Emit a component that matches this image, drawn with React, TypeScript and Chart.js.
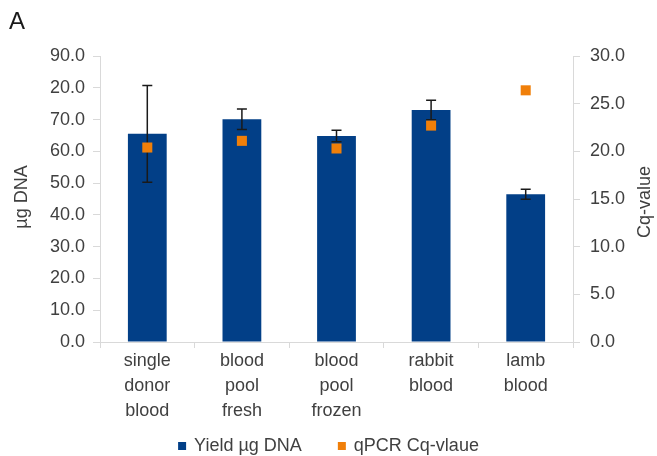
import React, { useEffect, useRef } from 'react';
import { Chart, registerables } from 'chart.js';

Chart.register(...registerables);

const CATEGORIES: string[][] = [
  ['single', 'donor', 'blood'],
  ['blood', 'pool', 'fresh'],
  ['blood', 'pool', 'frozen'],
  ['rabbit', 'blood'],
  ['lamb', 'blood'],
];
const YIELD = [65.5, 70.1, 64.8, 73.0, 46.5];
const YIELD_ERR = [15.2, 3.2, 1.8, 3.1, 1.6];
const CQ = [20.4, 21.1, 20.3, 22.7, 26.4];
const LEFT_TICKS = ['0.0', '10.0', '20.0', '30.0', '40.0', '50.0', '60.0', '70.0', '20.0', '90.0'];
const RIGHT_TICKS = ['0.0', '5.0', '10.0', '15.0', '20.0', '25.0', '30.0'];
const SERIES = ['Yield µg DNA', 'qPCR Cq-vlaue'];
const PANEL = 'A';
const LEFT_TITLE = 'µg DNA';
const RIGHT_TITLE = 'Cq-value';

const BLUE = '#023f87';
const ORANGE = '#f07f09';
const AXIS = '#d9d9d9';
const TEXT = '#404040';
const FONT = '"Liberation Sans", Arial, sans-serif';

const decor = {
  id: 'decor',
  afterDatasetDraw(chart: any, args: any) {
    if (args.index !== 0) return;
    const ctx = chart.ctx;
    const y = chart.scales.y;
    const meta = chart.getDatasetMeta(0);
    ctx.save();
    ctx.strokeStyle = '#1a1a1a';
    ctx.lineWidth = 1.5;
    meta.data.forEach((el: any, i: number) => {
      const x = el.x;
      const top = y.getPixelForValue(YIELD[i] + YIELD_ERR[i]);
      const bot = y.getPixelForValue(YIELD[i] - YIELD_ERR[i]);
      ctx.beginPath();
      ctx.moveTo(x, top);
      ctx.lineTo(x, bot);
      ctx.moveTo(x - 5, top);
      ctx.lineTo(x + 5, top);
      ctx.moveTo(x - 5, bot);
      ctx.lineTo(x + 5, bot);
      ctx.stroke();
    });
    ctx.restore();
  },
  afterDraw(chart: any) {
    const ctx = chart.ctx;
    const area = chart.chartArea;
    ctx.save();
    ctx.fillStyle = '#1a1a1a';
    ctx.font = `24px ${FONT}`;
    ctx.textAlign = 'left';
    ctx.textBaseline = 'alphabetic';
    ctx.fillText(PANEL, 9, 29);

    ctx.fillStyle = TEXT;
    ctx.font = `18px ${FONT}`;
    ctx.textAlign = 'center';
    ctx.textBaseline = 'middle';
    const cy = (area.top + area.bottom) / 2;
    ctx.save();
    ctx.translate(22, cy - 2);
    ctx.rotate(-Math.PI / 2);
    ctx.fillText(LEFT_TITLE, 0, 0);
    ctx.restore();
    ctx.save();
    ctx.translate(645, cy + 3);
    ctx.rotate(-Math.PI / 2);
    ctx.fillText(RIGHT_TITLE, 0, 0);
    ctx.restore();

    // legend
    const colors = [BLUE, ORANGE];
    const box = 8;
    const gap = 8;
    const itemGap = 36;
    const widths = SERIES.map((s) => ctx.measureText(s).width);
    const total = widths.reduce((a, w) => a + box + gap + w, 0) + itemGap * (SERIES.length - 1);
    let x = chart.width / 2 - total / 2;
    const ly = 446;
    ctx.textAlign = 'left';
    SERIES.forEach((s, i) => {
      ctx.fillStyle = colors[i];
      ctx.fillRect(x, ly - box / 2, box, box);
      x += box + gap;
      ctx.fillStyle = TEXT;
      ctx.fillText(s, x, ly);
      x += widths[i] + itemGap;
    });
    ctx.restore();
  },
};

export default function App() {
  const ref = useRef<HTMLCanvasElement | null>(null);
  useEffect(() => {
    if (!ref.current) return;
    const chart = new Chart(ref.current, {
      data: {
        labels: CATEGORIES,
        datasets: [
          {
            type: 'bar',
            label: SERIES[0],
            data: YIELD,
            backgroundColor: BLUE,
            yAxisID: 'y',
            barPercentage: 0.41,
            categoryPercentage: 1,
            order: 2,
          },
          {
            type: 'line',
            label: SERIES[1],
            data: CQ,
            yAxisID: 'y1',
            showLine: false,
            pointStyle: 'rect',
            pointRadius: 7.1,
            pointBackgroundColor: ORANGE,
            pointBorderWidth: 0,
            borderColor: ORANGE,
            backgroundColor: ORANGE,
            order: 1,
          },
        ],
      } as any,
      options: {
        responsive: false,
        animation: false,
        layout: { padding: { top: 56, left: 0, right: 0, bottom: 0 } },
        plugins: {
          legend: { display: false },
          tooltip: { enabled: false },
          title: { display: false },
        },
        scales: {
          x: {
            type: 'category',
            offset: true,
            grid: { offset: true, drawOnChartArea: false, color: AXIS, tickLength: 6 },
            border: { color: AXIS },
            ticks: {
              color: TEXT,
              font: { family: FONT, size: 18, lineHeight: 1.4 },
              padding: 0,
              maxRotation: 0,
              autoSkip: false,
            },
            afterFit: (s: any) => {
              s.height = 114;
            },
          },
          y: {
            position: 'left',
            min: 0,
            max: 90,
            grid: { drawOnChartArea: false, color: AXIS, tickLength: 7 },
            border: { color: AXIS },
            ticks: {
              stepSize: 10,
              color: TEXT,
              font: { family: FONT, size: 18 },
              padding: 8,
              callback: (v: any) => LEFT_TICKS[Math.round(Number(v) / 10)],
            },
            afterFit: (s: any) => {
              s.width = 100;
            },
          },
          y1: {
            position: 'right',
            min: 0,
            max: 30,
            grid: { drawOnChartArea: false, color: AXIS, tickLength: 7 },
            border: { color: AXIS },
            ticks: {
              stepSize: 5,
              color: TEXT,
              font: { family: FONT, size: 18 },
              padding: 10,
              callback: (v: any) => RIGHT_TICKS[Math.round(Number(v) / 5)],
            },
            afterFit: (s: any) => {
              s.width = 84;
            },
          },
        },
      } as any,
      plugins: [decor],
    });
    return () => chart.destroy();
  }, []);
  return (
    <div style={{ position: 'absolute', left: 0, top: 0, width: 657, height: 456, background: '#fff' }}>
      <canvas ref={ref} width={657} height={456} style={{ display: 'block' }} />
    </div>
  );
}
